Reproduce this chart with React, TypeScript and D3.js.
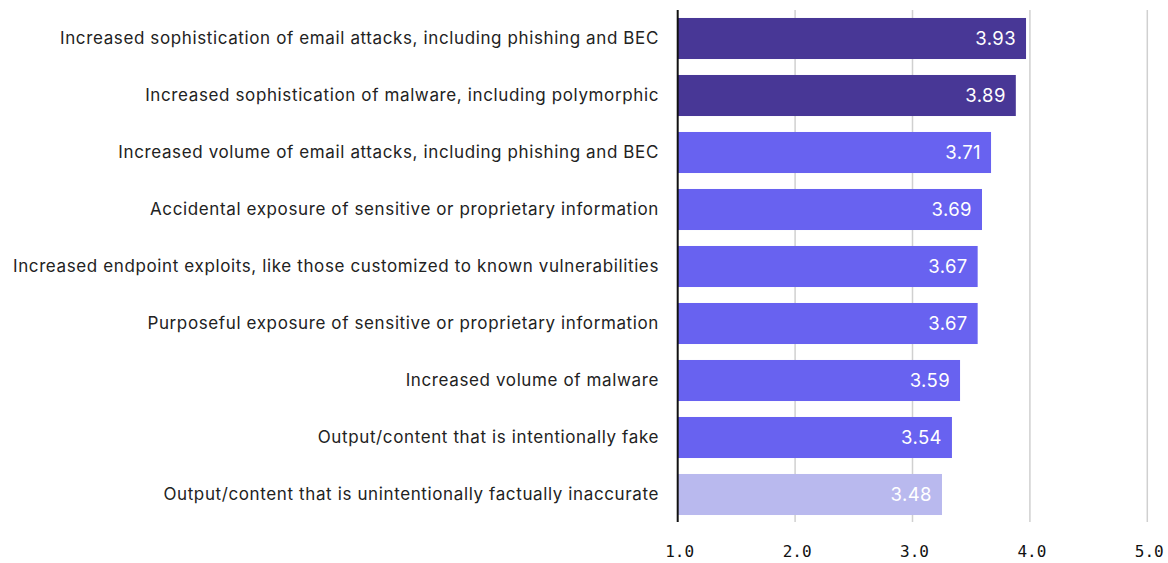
import React from "react";
import * as d3 from "d3";

const categories = [
  "Increased sophistication of email attacks, including phishing and BEC",
  "Increased sophistication of malware, including polymorphic",
  "Increased volume of email attacks, including phishing and BEC",
  "Accidental exposure of sensitive or proprietary information",
  "Increased endpoint exploits, like those customized to known vulnerabilities",
  "Purposeful exposure of sensitive or proprietary information",
  "Increased volume of malware",
  "Output/content that is intentionally fake",
  "Output/content that is unintentionally factually inaccurate",
];
// values printed on the bars
const scoreLabels = ["3.93", "3.89", "3.71", "3.69", "3.67", "3.67", "3.59", "3.54", "3.48"];
// bar lengths as drawn in the picture (on the 1–5 axis)
const barValues = [3.967, 3.88, 3.669, 3.592, 3.555, 3.555, 3.405, 3.336, 3.251];
const barGroups = ["dark", "dark", "mid", "mid", "mid", "mid", "mid", "mid", "light"];
const ticks = [1, 2, 3, 4, 5];

const colors: Record<string, string> = {
  dark: "#483796",
  mid: "#6862F0",
  light: "#B9B9EE",
};

export default function App() {
  const W = 1168;
  const H = 563;
  const x = d3.scaleLinear().domain([1, 5]).range([677.7, 1147.3]);
  const y = d3
    .scaleBand<string>()
    .domain(categories)
    .range([10, 523])
    .paddingInner(0.28)
    .paddingOuter(0.14);
  const font = "Inter, 'Noto Sans', sans-serif";
  return (
    <div style={{ position: "absolute", left: 0, top: 0 }}>
      <svg width={W} height={H} style={{ display: "block" }}>
        <rect width={W} height={H} fill="#fff" />
        {ticks.slice(1).map((t) => (
          <line key={t} x1={x(t)} x2={x(t)} y1={10} y2={522} stroke="#d0d0d0" strokeWidth={1.5} />
        ))}
        {categories.map((c, i) => {
          const y0 = y(c)!;
          const bw = y.bandwidth();
          return (
            <g key={c}>
              <rect x={x(1)} y={y0} width={x(barValues[i]) - x(1)} height={bw} fill={colors[barGroups[i]]} />
              <text
                x={x(barValues[i]) - 10}
                y={y0 + bw / 2}
                dy="0.36em"
                textAnchor="end"
                fill="#fff"
                fontFamily={font}
                fontSize={18.5}
                letterSpacing={0.4}
              >
                {scoreLabels[i]}
              </text>
              <text
                x={659}
                y={y0 + bw / 2}
                dy="0.35em"
                textAnchor="end"
                fill="#222"
                fontFamily={font}
                fontSize={17}
                letterSpacing={0.62}
              >
                {c}
              </text>
            </g>
          );
        })}
        <line x1={x(1)} x2={x(1)} y1={10} y2={522} stroke="#111" strokeWidth={2} />
        {ticks.map((t) => (
          <text
            key={t}
            x={x(t) + 2}
            y={551}
            dy="0.35em"
            textAnchor="middle"
            fill="#111"
            fontFamily="'DejaVu Sans Mono', monospace"
            fontSize={16}
          >
            {d3.format(".1f")(t)}
          </text>
        ))}
      </svg>
    </div>
  );
}
